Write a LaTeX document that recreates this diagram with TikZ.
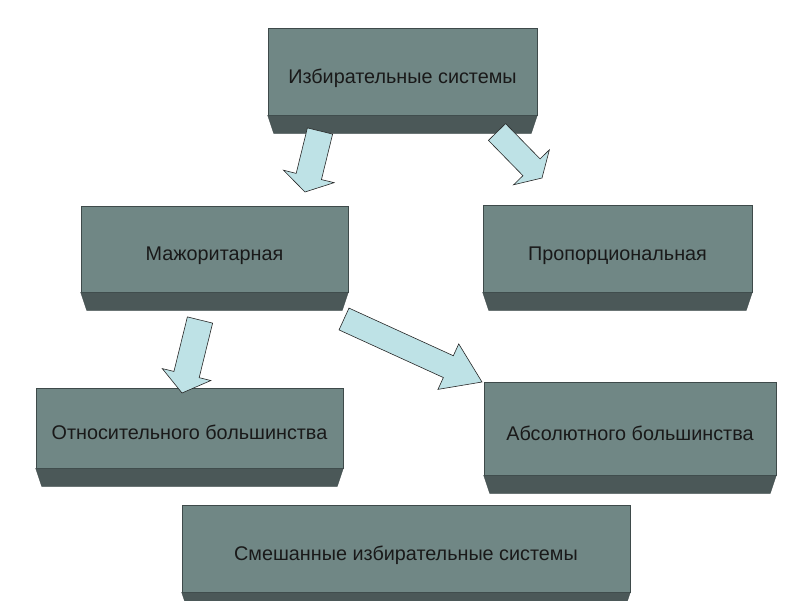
\documentclass[tikz,border=0pt]{standalone}
\usepackage{fontspec}
\setmainfont{Liberation Sans}
\usetikzlibrary{calc}

\definecolor{slabface}{RGB}{112,135,133}
\definecolor{slabband}{RGB}{75,88,88}
\definecolor{slabedge}{RGB}{62,74,74}
\definecolor{arrowfill}{RGB}{190,226,230}

% tail, tip, half shaft, half head, head length
\newcommand{\blockarrow}[5]{%
    \coordinate (headbase) at ($(#2)!#5!(#1)$);
    \draw[blockarrow] ($(#1)!#3!90:(#2)$) -- ($(headbase)!#3!90:(#2)$) -- ($(headbase)!#4!90:(#2)$) -- (#2)
        -- ($(headbase)!#4!-90:(#2)$) -- ($(headbase)!#3!-90:(#2)$) -- ($(#1)!#3!-90:(#2)$) -- cycle;
}

\begin{document}
\begin{tikzpicture}[x=1pt, y=-1pt,
    slab/.style={draw=slabedge, line width=0.6pt, fill=slabface, text=black!90, inner sep=0pt,
        font=\fontsize{19.8}{24}\selectfont, text height=23pt, text depth=0pt},
    slabband/.style={fill=slabband, draw=slabedge, line width=0.4pt},
    blockarrow/.style={draw=black!85, line width=0.6pt, fill=arrowfill, line join=miter}]
    \useasboundingbox (0,0) rectangle (800,600);

    \node [slab, minimum width=269pt, minimum height=87pt] (sys) at (402.5,71.5) {Избирательные системы};
    \node [slab, minimum width=267pt, minimum height=86pt] (maj) at (214.5,249) {Мажоритарная};
    \node [slab, minimum width=269pt, minimum height=87pt] (pro) at (617.5,248.5) {Пропорциональная};
    \node [slab, minimum width=307pt, minimum height=80pt] (otn) at (189.5,428) {Относительного большинства};
    \node [slab, minimum width=292pt, minimum height=93pt] (abs) at (630,428.5) {Абсолютного большинства};
    \node [slab, minimum width=448pt, minimum height=87pt] (mix) at (406,548.5) {Смешанные избирательные системы};

    % lower edge of each slab
    \foreach \n in {sys,maj,pro,otn,abs,mix}
        \draw[slabband] (\n.south west) -- (\n.south east) -- ([xshift=-6pt,yshift=-18pt]\n.south east)
            -- ([xshift=6pt,yshift=-18pt]\n.south west) -- cycle;

    \coordinate (a1-tail) at (320,131);
    \coordinate (a1-tip) at (305,192);
    \coordinate (a2-tail) at (497,132);
    \coordinate (a2-tip) at (542,178);
    \coordinate (a3-tail) at (344,319);
    \coordinate (a3-tip) at (482,382);
    \coordinate (a4-tail) at (200,320);
    \coordinate (a4-tip) at (182,393);

    \blockarrow{a1-tail}{a1-tip}{13pt}{26pt}{16pt}
    \blockarrow{a2-tail}{a2-tip}{12pt}{25pt}{15pt}
    \blockarrow{a3-tail}{a3-tip}{12pt}{25pt}{37pt}
    \blockarrow{a4-tail}{a4-tip}{13pt}{25pt}{19pt}

\end{tikzpicture}
\end{document}
